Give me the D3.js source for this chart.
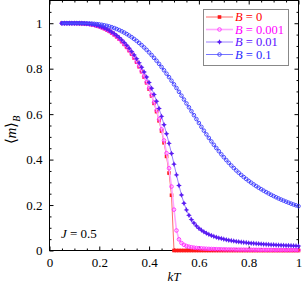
<!DOCTYPE html>
<html><head><meta charset="utf-8">
<script src="https://cdn.jsdelivr.net/npm/d3@7"></script>
<style>body{margin:0;background:#fff}svg{display:block}svg text{font-family:'Liberation Serif','Times New Roman',Times,serif !important}</style>
</head><body>
<script>
const kT = [0.05,0.06,0.07,0.08,0.09,0.10,0.11,0.12,0.13,0.14,
0.15,0.16,0.17,0.18,0.19,0.20,0.21,0.22,0.23,0.24,
0.25,0.26,0.27,0.28,0.29,0.30,0.31,0.32,0.33,0.34,
0.35,0.36,0.37,0.38,0.39,0.40,0.41,0.42,0.43,0.44,
0.45,0.46,0.47,0.48,0.49,0.50,0.51,0.52,0.53,0.54,
0.55,0.56,0.57,0.58,0.59,0.60,0.61,0.62,0.63,0.64,
0.65,0.66,0.67,0.68,0.69,0.70,0.71,0.72,0.73,0.74,
0.75,0.76,0.77,0.78,0.79,0.80,0.81,0.82,0.83,0.84,
0.85,0.86,0.87,0.88,0.89,0.90,0.91,0.92,0.93,0.94,
0.95,0.96,0.97,0.98,0.99,1.00];
const mB0 = [1,1,1,1,1,0.9999,0.9998,0.9995,0.9991,0.9984,
0.9974,0.9960,0.9942,0.9920,0.9891,0.9856,0.9815,0.9766,0.9711,0.9647,
0.9575,0.9494,0.9404,0.9304,0.9194,0.9073,0.8941,0.8797,0.8641,0.8471,
0.8286,0.8086,0.7870,0.7635,0.7380,0.7102,0.6802,0.6473,0.6110,0.5706,
0.5255,0.4740,0.4140,0.3408,0.2431,0,0,0,0,0,
0,0,0,0,0,0,0,0,0,0,
0,0,0,0,0,0,0,0,0,0,
0,0,0,0,0,0,0,0,0,0,
0,0,0,0,0,0,0,0,0,0,
0,0,0,0,0,0];
const mB001 = [1,1,1,1,1,0.9999,0.9998,0.9995,0.9991,0.9984,
0.9974,0.9960,0.9942,0.9921,0.9892,0.9858,0.9817,0.9768,0.9714,0.9650,
0.9579,0.9499,0.9409,0.9310,0.9201,0.9081,0.8951,0.8808,0.8653,0.8485,
0.8302,0.8104,0.7891,0.7659,0.7408,0.7135,0.6840,0.6518,0.6164,0.5772,
0.5332,0.4843,0.4282,0.3618,0.2813,0.1797,0.0882,0.0490,0.0331,0.0249,
0.0199,0.0167,0.0143,0.0125,0.0111,0.0100,0.0091,0.0083,0.0077,0.0071,
0.0067,0.0063,0.0059,0.0056,0.0053,0.0050,0.0048,0.0045,0.0043,0.0042,
0.0040,0.0038,0.0037,0.0036,0.0034,0.0033,0.0032,0.0031,0.0030,0.0029,
0.0029,0.0028,0.0027,0.0026,0.0026,0.0025,0.0024,0.0024,0.0023,0.0023,
0.0022,0.0022,0.0021,0.0021,0.0020,0.0020];
const mB01 = [1,1,1,1,1,1,0.9998,0.9997,0.9993,0.9987,
0.9978,0.9965,0.9949,0.9929,0.9903,0.9871,0.9834,0.9790,0.9739,0.9681,
0.9615,0.9541,0.9459,0.9367,0.9267,0.9152,0.9031,0.8900,0.8757,0.8604,
0.8437,0.8257,0.8064,0.7856,0.7635,0.7395,0.7137,0.6862,0.6565,0.6245,
0.5902,0.5534,0.5140,0.4715,0.4270,0.3800,0.3327,0.2862,0.2442,0.2082,
0.1787,0.1549,0.1360,0.1207,0.1083,0.0981,0.0896,0.0824,0.0762,0.0709,
0.0662,0.0622,0.0586,0.0553,0.0525,0.0499,0.0475,0.0454,0.0434,0.0416,
0.0399,0.0384,0.0370,0.0357,0.0345,0.0333,0.0322,0.0312,0.0303,0.0294,
0.0286,0.0278,0.0270,0.0263,0.0256,0.0250,0.0244,0.0238,0.0232,0.0227,
0.0222,0.0217,0.0213,0.0208,0.0204,0.0200];
const mB1 = [1,1,1,1,1,1,1,1,0.9998,0.9996,
0.9993,0.9989,0.9983,0.9974,0.9963,0.9949,0.9932,0.9911,0.9887,0.9858,
0.9825,0.9787,0.9745,0.9698,0.9646,0.9589,0.9526,0.9458,0.9385,0.9306,
0.9222,0.9132,0.9036,0.8935,0.8828,0.8716,0.8599,0.8476,0.8348,0.8213,
0.8073,0.7929,0.7780,0.7627,0.7470,0.7311,0.7149,0.6982,0.6813,0.6643,
0.6472,0.6301,0.6129,0.5954,0.5782,0.5609,0.5440,0.5273,0.5111,0.4953,
0.4800,0.4652,0.4508,0.4369,0.4234,0.4104,0.3979,0.3857,0.3741,0.3629,
0.3522,0.3421,0.3324,0.3232,0.3146,0.3062,0.2983,0.2907,0.2834,0.2764,
0.2697,0.2632,0.2570,0.2510,0.2451,0.2395,0.2342,0.2290,0.2241,0.2194,
0.2149,0.2105,0.2063,0.2023,0.1986,0.1950];
const seriesNames = ["0","0.001","0.01","0.1"];
const xTicks = [0,0.2,0.4,0.6,0.8,1];
const xTickLabels = ["0","0.2","0.4","0.6","0.8","1"];
const yTicks = [0,0.2,0.4,0.6,0.8,1];
const yTickLabels = ["0","0.2","0.4","0.6","0.8","1"];
const xMinor = [0.05,0.1,0.15,0.25,0.3,0.35,0.45,0.5,0.55,0.65,0.7,0.75,0.85,0.9,0.95];
const yMinor = [0.05,0.1,0.15,0.25,0.3,0.35,0.45,0.5,0.55,0.65,0.7,0.75,0.85,0.9,0.95,1.05];

const FONT="'Liberation Serif','Times New Roman',Times,serif";
const W=302,H=286;
const L=49.5,R=298.5,T=0.5,B=250.5;
const svg=d3.select("body").append("svg").attr("width",W).attr("height",H).attr("font-family",FONT);
const x=d3.scaleLinear().domain([0,1]).range([L,R]);
const y=d3.scaleLinear().domain([0,1.1]).range([B,T]);

function styleAxis(g){g.attr("font-family",FONT).attr("font-size",13);g.select(".domain").remove();g.selectAll("line").attr("stroke","#000");g.selectAll("text").attr("fill","#000");}
svg.append("g").attr("transform",`translate(0,${B})`).call(d3.axisBottom(x).tickValues(xTicks).tickSizeInner(-4).tickSizeOuter(0).tickPadding(7).tickFormat((d,i)=>xTickLabels[i])).call(styleAxis);
svg.append("g").attr("transform",`translate(0,${B})`).call(d3.axisBottom(x).tickValues(xMinor).tickSizeInner(-2).tickSizeOuter(0).tickFormat("")).call(styleAxis);
svg.append("g").attr("transform",`translate(0,${T})`).call(d3.axisTop(x).tickValues(xTicks).tickSizeInner(-4).tickSizeOuter(0).tickFormat("")).call(styleAxis);
svg.append("g").attr("transform",`translate(0,${T})`).call(d3.axisTop(x).tickValues(xMinor).tickSizeInner(-2).tickSizeOuter(0).tickFormat("")).call(styleAxis);
svg.append("g").attr("transform",`translate(${L},0)`).call(d3.axisLeft(y).tickValues(yTicks).tickSizeInner(-4).tickSizeOuter(0).tickPadding(7).tickFormat((d,i)=>yTickLabels[i])).call(styleAxis);
svg.append("g").attr("transform",`translate(${L},0)`).call(d3.axisLeft(y).tickValues(yMinor).tickSizeInner(-2).tickSizeOuter(0).tickFormat("")).call(styleAxis);
svg.append("g").attr("transform",`translate(${R},0)`).call(d3.axisRight(y).tickValues(yTicks).tickSizeInner(-4).tickSizeOuter(0).tickFormat("")).call(styleAxis);
svg.append("g").attr("transform",`translate(${R},0)`).call(d3.axisRight(y).tickValues(yMinor).tickSizeInner(-2).tickSizeOuter(0).tickFormat("")).call(styleAxis);
svg.append("rect").attr("x",L).attr("y",T).attr("width",R-L).attr("height",B-T).attr("fill","none").attr("stroke","#000");

const star = "M0,-2.8L0.95,-0.95L2.8,0L0.95,0.95L0,2.8L-0.95,0.95L-2.8,0L-0.95,-0.95Z";
const series=[
 {vals:mB0,  line:"#ff6a6a", lw:1,   mcol:"#ff1a1a", text:"#ff0000", mk:"square"},
 {vals:mB001,line:"#ffa8ff", lw:1.6, mcol:"#ff30ff", text:"#ff00ff", mk:"ocircle"},
 {vals:mB01, line:"#9b80ff", lw:1,   mcol:"#5a1cf2", text:"#5a10ff", mk:"star"},
 {vals:mB1,  line:"#7575ff", lw:1,   mcol:"#3c3cff", text:"#2a2aff", mk:"ocircle"}
];
function marker(g,s,cx,cy){
  if(s.mk==="square") g.append("rect").attr("x",cx-1.8).attr("y",cy-1.8).attr("width",3.6).attr("height",3.6).attr("fill",s.mcol);
  else if(s.mk==="ocircle") g.append("circle").attr("cx",cx).attr("cy",cy).attr("r",1.8).attr("fill","none").attr("stroke",s.mcol).attr("stroke-width",0.9);
  else g.append("path").attr("d",star).attr("transform",`translate(${cx},${cy})`).attr("fill",s.mcol);
}
const line=d3.line().x((d,i)=>x(kT[i])).y(d=>y(d));
series.forEach(s=>{
  const g=svg.append("g");
  g.append("path").attr("d",line(s.vals)).attr("fill","none").attr("stroke",s.line).attr("stroke-width",s.lw);
  s.vals.forEach((v,i)=>marker(g,s,x(kT[i]),y(v)));
});

// legend
const lg=svg.append("g");
lg.append("rect").attr("x",203.5).attr("y",9.5).attr("width",85).attr("height",56).attr("fill","#fff").attr("stroke","#888");
series.forEach((s,i)=>{
  const yy=17+i*12.5;
  lg.append("line").attr("x1",206).attr("x2",233).attr("y1",yy).attr("y2",yy).attr("stroke",s.line).attr("stroke-width",s.lw);
  marker(lg,s,219.5,yy);
  const t=lg.append("text").attr("x",235).attr("y",yy+4.2).attr("font-size",12.5).attr("fill",s.text);
  t.append("tspan").attr("font-style","italic").text("B");
  t.append("tspan").text(" = "+seriesNames[i]);
});

// labels
svg.append("text").attr("x",(L+R)/2).attr("y",281).attr("text-anchor","middle").attr("font-size",13).attr("font-style","italic").text("kT");
const yl=svg.append("text").attr("transform","translate(16,130) rotate(-90)").attr("text-anchor","middle").attr("font-size",15);
yl.append("tspan").text("\u27E8");
yl.append("tspan").attr("font-style","italic").text("m");
yl.append("tspan").text("\u27E9");
yl.append("tspan").attr("font-style","italic").attr("font-size",10).attr("dy",4).text("B");
const jl=svg.append("text").attr("x",61).attr("y",238).attr("font-size",13);
jl.append("tspan").attr("font-style","italic").text("J");
jl.append("tspan").text(" = 0.5");
</script>
</body></html>
